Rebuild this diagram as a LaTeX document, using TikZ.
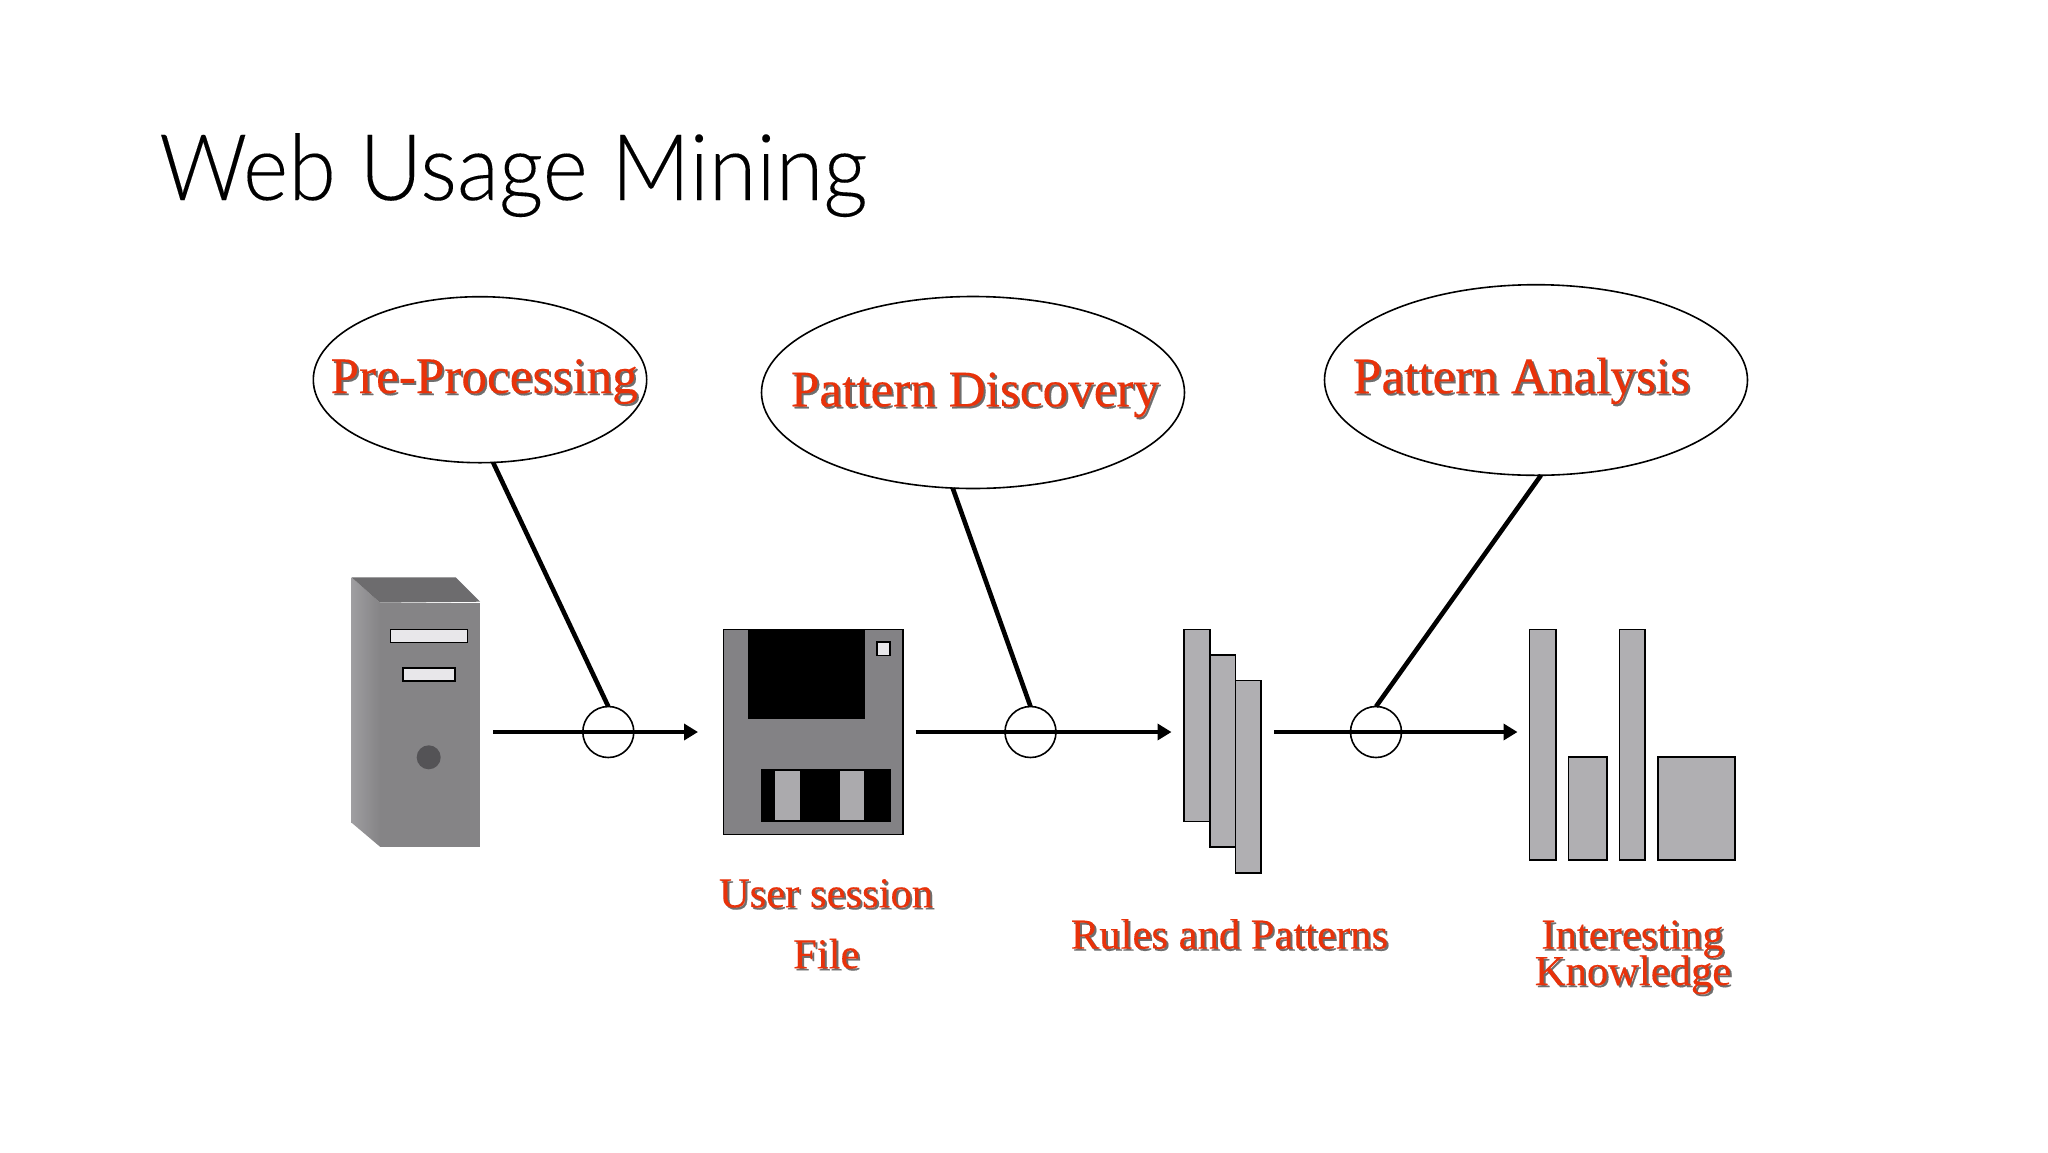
\documentclass[tikz,border=0pt]{standalone}
\usepackage{fontspec}
\setmainfont{Liberation Serif}[FakeBold=0.25]
\newfontfamily\titlefont{Lato Light}[FakeStretch=0.942,FakeBold=0.12]
\usetikzlibrary{arrows.meta,shapes.geometric}
\definecolor{txtred}{HTML}{E8320A}
\definecolor{shade}{HTML}{6E6E6E}
\definecolor{frontgray}{HTML}{858486}
\definecolor{sidegray}{HTML}{9E9DA0}
\definecolor{topgray}{HTML}{6D6C6E}
\definecolor{lightgray2}{HTML}{E8E7EA}
\definecolor{knobgray}{HTML}{545356}
\definecolor{barfill}{HTML}{B0AFB2}
\definecolor{diskgray}{HTML}{838285}
\definecolor{shuttergray}{HTML}{ABAAAD}
\newcommand{\shtext}[1]{\rlap{\kern2pt\raisebox{-2pt}{\textcolor{shade}{#1}}}\textcolor{txtred}{#1}}
\tikzset{
  bubble/.style={ellipse,draw=black,line width=1.6pt,inner sep=0pt,outer sep=0pt},
  probe/.style={circle,draw=black,line width=1.6pt,inner sep=0pt,outer sep=0pt,minimum size=51pt},
  pole/.style={draw=black,line width=4.6pt},
  flow/.style={draw=black,line width=4.6pt,-{Triangle[length=14pt,width=16pt]}},
  bigtext/.style={font=\fontsize{51.2}{60}\selectfont,anchor=base,inner sep=0pt},
  midtext/.style={font=\fontsize{42.6}{48}\selectfont,anchor=base,inner sep=0pt},
  bar/.style={fill=barfill,draw=black,line width=1.6pt},
  slot/.style={fill=lightgray2,draw=black,line width=1.6pt}
}
\begin{document}
\begin{tikzpicture}[x=1pt,y=-1pt]
\useasboundingbox (0,0) rectangle (2048,1152);
\fill[white] (0,0) rectangle (2048,1152);
\node[anchor=base west,inner sep=0pt,font=\titlefont\fontsize{92}{100}\selectfont,text=black] (title) at (159,200) {Web Usage Mining};

% server
\fill[frontgray] (380,602.7) rectangle (480,846.7);
\shade[left color=sidegray,right color=frontgray] (351.6,577.3) -- (380,602.7) -- (380,846.7) -- (351.6,822.7) -- cycle;
\fill[topgray] (351.6,577.3) -- (455.6,577.3) -- (480,601.7) -- (380,602.7) -- cycle;
\draw[slot] (390.4,629.3) rectangle (467.5,642.3);
\draw[slot] (403,667.7) rectangle (454.8,681);
\fill[knobgray] (428.7,757.3) ellipse [x radius=12,y radius=12];

% floppy
\draw[fill=diskgray,draw=black,line width=1.6pt] (723.3,629.3) rectangle (903,834.3);
\fill[black] (748.2,629.3) rectangle (865,719.3);
\draw[slot] (876.8,642) rectangle (890.2,655.3);
\fill[black] (761,769.3) rectangle (891,822.3);
\fill[shuttergray] (775,770.7) rectangle (799.6,820.3);
\fill[shuttergray] (839.6,770.7) rectangle (863.7,820.3);

% rules
\draw[bar] (1184,629.3) rectangle (1210,821.3);
\draw[bar] (1210,655) rectangle (1235.4,847);
\draw[bar] (1235.4,680.3) rectangle (1261,872.7);

% knowledge
\draw[bar] (1529.6,629.3) rectangle (1555.7,859.7);
\draw[bar] (1568.3,757) rectangle (1606.7,859.7);
\draw[bar] (1619.4,629.3) rectangle (1645,859.7);
\draw[bar] (1657.7,757) rectangle (1734.8,859.7);

% bubbles
\node[bubble,minimum width=333.4pt,minimum height=166pt] (b1) at (480,379.7) {};
\node[bubble,minimum width=423pt,minimum height=192pt] (b2) at (973,392.5) {};
\node[bubble,minimum width=423pt,minimum height=190.6pt] (b3) at (1536,380) {};

% arrows
\coordinate (a1s) at (493,732);
\coordinate (a1e) at (698,732);
\coordinate (a2s) at (915.5,732);
\coordinate (a2e) at (1171.5,732);
\coordinate (a3s) at (1274,732);
\coordinate (a3e) at (1517.5,732);
\draw[flow] (a1s) -- (a1e);
\draw[flow] (a2s) -- (a2e);
\draw[flow] (a3s) -- (a3e);

% probes
\node[probe] (c1) at (608.3,732) {};
\node[probe] (c2) at (1030.5,732) {};
\node[probe] (c3) at (1376,732) {};
\draw[pole] (b1.279.5) -- (c1.north);
\draw[pole] (b2.258.6) -- (c2.north);
\draw[pole] (b3.273.9) -- (c3.north);

% labels
\node[bigtext] (t1) at (484.2,393) {\shtext{Pre-Processing}};
\node[bigtext] (t2) at (975,406.3) {\shtext{Pattern Discovery}};
\node[bigtext] (t3) at (1521.5,393.2) {\shtext{Pattern Analysis}};
\node[midtext] (t4) at (826,907.3) {\shtext{User session}};
\node[midtext] (t5) at (826.3,968.3) {\shtext{File}};
\node[midtext] (t6) at (1229.5,948.6) {\shtext{Rules and Patterns}};
\node[midtext] (t7) at (1632.5,948.6) {\shtext{Interesting}};
\node[midtext] (t8) at (1633,985) {\shtext{Knowledge}};
\end{tikzpicture}
\end{document}
